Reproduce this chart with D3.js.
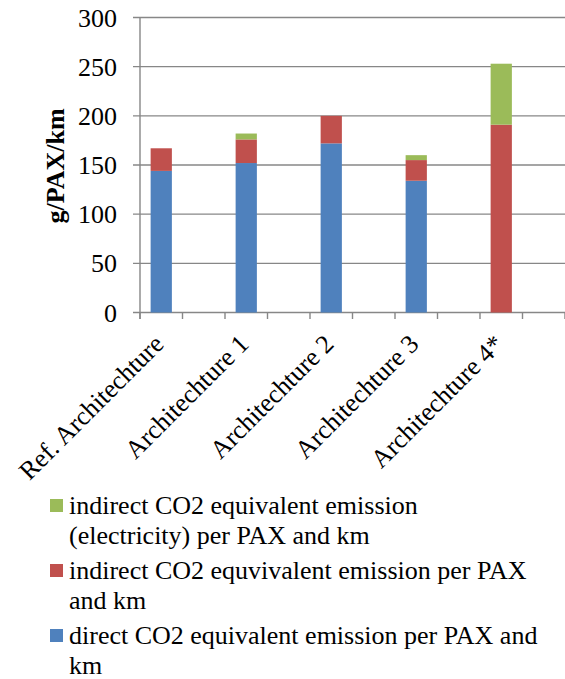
<!DOCTYPE html>
<html>
<head>
<meta charset="utf-8">
<style>
  html, body { margin: 0; padding: 0; background: #fff; }
</style>
<script src="https://cdn.jsdelivr.net/npm/d3@7"></script>
</head>
<body>
<svg id="chart" width="565" height="679"></svg>
<script>
// Emission per passenger-km for each architecture (g/PAX/km)
const categories = ["Ref. Architechture", "Architechture 1", "Architechture 2", "Architechture 3", "Architechture 4*"];
const directEmission = [144, 152, 172, 134, 0];
const indirectEmission = [23, 24, 28, 21, 191];
const electricityEmission = [0, 6, 0, 5, 62];
const yTicks = [0, 50, 100, 150, 200, 250, 300];
const seriesKeys = ["direct", "indirect", "electricity"];
const seriesColors = ["#4F81BD", "#C0504D", "#9BBB59"];
const legendLabels = [
  ["indirect CO2 equivalent emission", "(electricity) per PAX and km"],
  ["indirect CO2 equvivalent emission per PAX", "and km"],
  ["direct CO2 equivalent emission per PAX and", "km"]
];
const legendColors = ["#9BBB59", "#C0504D", "#4F81BD"];

const FONT = 'normal 400 26px "Liberation Serif", serif';
const svg = d3.select("#chart");
const plotLeft = 140, plotRight = 565, plotTop = 17.5, plotBottom = 312.5;

// each architecture is followed by an empty slot on the category axis
const slots = categories.flatMap((c, i) => [c, "gap" + i]);
const x = d3.scaleBand().domain(slots).range([plotLeft, plotRight]).paddingInner(0.5).paddingOuter(0.25);
const y = d3.scaleLinear().domain([0, 300]).range([plotBottom, plotTop]);

const rows = categories.map((c, i) => ({
  cat: c, direct: directEmission[i], indirect: indirectEmission[i], electricity: electricityEmission[i]
}));
const stacked = d3.stack().keys(seriesKeys)(rows);

// horizontal gridlines with outward tick stubs
svg.append("g").selectAll("line").data(yTicks).join("line")
  .attr("x1", plotLeft - 7).attr("x2", plotRight)
  .attr("y1", d => y(d)).attr("y2", d => y(d))
  .attr("stroke", "#878787").attr("stroke-width", 1.4);

// y tick labels
svg.append("g").selectAll("text").data(yTicks).join("text")
  .style("font", FONT)
  .attr("x", 117).attr("y", d => y(d)).attr("dy", "0.35em")
  .attr("text-anchor", "end")
  .text(d => d);

// bars
svg.append("g").selectAll("g").data(stacked).join("g")
  .attr("fill", (d, i) => seriesColors[i])
  .selectAll("rect").data(d => d.filter(s => s[1] - s[0] > 0)).join("rect")
  .attr("x", d => x(d.data.cat))
  .attr("width", x.bandwidth())
  .attr("y", d => y(d[1]))
  .attr("height", d => y(d[0]) - y(d[1]));

// axis lines and category ticks
const step = x.step();
svg.append("line").attr("x1", plotLeft).attr("x2", plotLeft).attr("y1", plotTop).attr("y2", plotBottom + 6.5)
  .attr("stroke", "#878787").attr("stroke-width", 1.4);
svg.append("g").selectAll("line").data(d3.range(slots.length + 1)).join("line")
  .attr("x1", i => plotLeft + i * step).attr("x2", i => plotLeft + i * step)
  .attr("y1", plotBottom).attr("y2", plotBottom + 6.5)
  .attr("stroke", "#878787").attr("stroke-width", 1.4);

// rotated category labels
svg.append("g").selectAll("text").data(categories).join("text")
  .style("font", FONT)
  .attr("transform", c => `translate(${x(c) + x.bandwidth() / 2 + 4},${plotBottom + 33}) rotate(-45)`)
  .attr("text-anchor", "end")
  .text(c => c);

// y axis title
svg.append("text")
  .style("font", 'bold 26px "Liberation Serif", serif')
  .attr("transform", "translate(64,166) rotate(-90)")
  .attr("text-anchor", "middle")
  .text("g/PAX/km");

// legend
const legend = svg.append("g");
legendLabels.forEach((lines, i) => {
  const base = 514 + i * 65;
  legend.append("rect").attr("x", 50).attr("y", base - 15).attr("width", 13).attr("height", 13)
    .attr("fill", legendColors[i]);
  lines.forEach((t, j) => {
    legend.append("text").style("font", FONT).attr("x", 69).attr("y", base + j * 30).text(t);
  });
});
</script>
</body>
</html>
